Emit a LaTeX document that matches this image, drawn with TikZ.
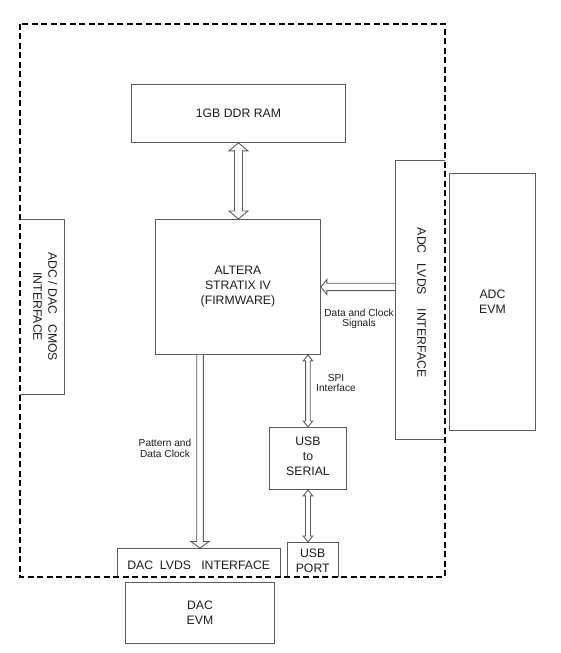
\documentclass[tikz,border=0pt]{standalone}
\usepackage{fontspec}
\setmainfont{Liberation Sans}
\usetikzlibrary{calc}
\definecolor{boxgray}{HTML}{5C5C5C}
\definecolor{txt}{HTML}{1E1E1E}
% vertical double-headed hollow arrow: #1 top point, #2 bottom point, #3 shaft half width, #4 head half width, #5 head length
\newcommand\dblarrowV[5]{%
  \draw[arr] let \p1=(#1), \p2=(#2) in
    (\x1,\y1) -- (\x1+#4,\y1-#5) -- (\x1+#3,\y1-#5) -- (\x1+#3,\y2+#5) -- (\x1+#4,\y2+#5)
    -- (\x1,\y2) -- (\x1-#4,\y2+#5) -- (\x1-#3,\y2+#5) -- (\x1-#3,\y1-#5) -- (\x1-#4,\y1-#5) -- cycle;}
% vertical single-headed (downward) hollow arrow: #1 tail, #2 tip
\newcommand\sglarrowV[5]{%
  \draw[arr] let \p1=(#1), \p2=(#2) in
    (\x2-#3,\y1) -- (\x2-#3,\y2+#5) -- (\x2-#4,\y2+#5) -- (\x2,\y2) -- (\x2+#4,\y2+#5)
    -- (\x2+#3,\y2+#5) -- (\x2+#3,\y1);}
% horizontal single-headed (leftward) hollow arrow: #1 tail, #2 tip
\newcommand\sglarrowH[5]{%
  \draw[arr] let \p1=(#1), \p2=(#2) in
    (\x1,\y2+#3) -- (\x2+#5,\y2+#3) -- (\x2+#5,\y2+#4) -- (\x2,\y2) -- (\x2+#5,\y2-#4)
    -- (\x2+#5,\y2-#3) -- (\x1,\y2-#3);}
\begin{document}
\begin{tikzpicture}[x=1bp,y=-1bp,
  blk/.style={draw=boxgray, line width=0.9bp, inner sep=0pt, align=center,
    font=\fontsize{12.3}{15}\selectfont, text=txt, anchor=north west},
  hole/.style={inner sep=0pt, anchor=north west},
  sidepath/.style={draw=boxgray, line width=0.9bp},
  btxt/.style={inner sep=0pt, align=center, font=\fontsize{12.3}{15}\selectfont, text=txt},
  lbl/.style={inner sep=0pt, align=center, font=\fontsize{10.2}{10.5}\selectfont, text=txt},
  arr/.style={draw=boxgray, line width=0.9bp, fill=white, line join=miter},
  boundary/.style={draw=black, line width=1.3bp, dash pattern=on 6bp off 3.5bp}
]
\useasboundingbox (0,0) rectangle (561,653);
\fill[white] (0,0) rectangle (561,653);

% full boxes
\node[blk, minimum width=214bp, minimum height=58bp] (ram) at (131,84) {1GB DDR RAM};
\node[blk, minimum width=165bp, minimum height=135bp] (altera) at (155,219) {ALTERA\\STRATIX IV\\(FIRMWARE)};
\node[blk, minimum width=86bp, minimum height=257bp] (adcevm) at (449,173) {ADC\\EVM};
\node[blk, minimum width=77bp, minimum height=62bp] (usbser) at (269,427) {};
\node[btxt, yshift=2bp] (usbsertxt) at (usbser.center) {USB\\to\\SERIAL};
\node[blk, minimum width=149bp, minimum height=61bp] (dacevm) at (125,582) {DAC\\EVM};

% boxes sharing one side with the dashed boundary
\node[hole, minimum width=44bp, minimum height=175bp] (cmos) at (20,219) {};
\node[hole, minimum width=50bp, minimum height=279bp] (adclvds) at (395,160) {};
\node[hole, minimum width=163bp, minimum height=29bp] (daclvds) at (117,548) {};
\node[hole, minimum width=51bp, minimum height=35bp] (usbport) at (287,542) {};

\draw[sidepath] (cmos.north west) -- (cmos.north east) -- (cmos.south east) -- (cmos.south west);
\draw[sidepath] (adclvds.north east) -- (adclvds.north west) -- (adclvds.south west) -- (adclvds.south east);
\draw[sidepath] (daclvds.south west) -- (daclvds.north west) -- (daclvds.north east) -- (daclvds.south east);
\draw[sidepath] (usbport.south west) -- (usbport.north west) -- (usbport.north east) -- (usbport.south east);

\node[btxt, rotate=-90, xshift=0bp] (cmostxt) at ([xshift=3bp]cmos.center) {ADC / DAC\ \ \ CMOS\\INTERFACE};
\node[btxt, rotate=-90] (adclvdstxt) at ([xshift=1.5bp,yshift=-3bp]adclvds.center) {ADC\ \ \ LVDS\ \ \ \ INTERFACE};
\node[btxt] (daclvdstxt) at ([yshift=-3bp]daclvds.center) {DAC\ \ LVDS\ \ \ INTERFACE};
\node[btxt] (usbporttxt) at ([yshift=-1bp]usbport.center) {USB\\PORT};

% dashed board boundary
\draw[boundary] (20,24) rectangle (445,577);

% connectors
\dblarrowV{ram.south}{altera.north}{4bp}{9.5bp}{8bp}
\sglarrowH{adclvds.west |- altera.east}{altera.east}{3.7bp}{7.5bp}{6bp}
\sglarrowV{altera.south -| 200,0}{daclvds.north -| 200,0}{3.3bp}{9.2bp}{6.5bp}
\dblarrowV{usbser.north |- altera.south}{usbser.north}{2.3bp}{4.7bp}{6bp}
\dblarrowV{usbser.south}{usbport.north -| usbser.south}{2.5bp}{4.8bp}{6bp}

% labels
\node[lbl] (dclbl) at (359,319) {Data and Clock\\Signals};
\node[lbl] (spilbl) at (336,383) {SPI\\Interface};
\node[lbl] (patlbl) at (165,448.5) {Pattern and\\Data Clock};
\end{tikzpicture}
\end{document}
